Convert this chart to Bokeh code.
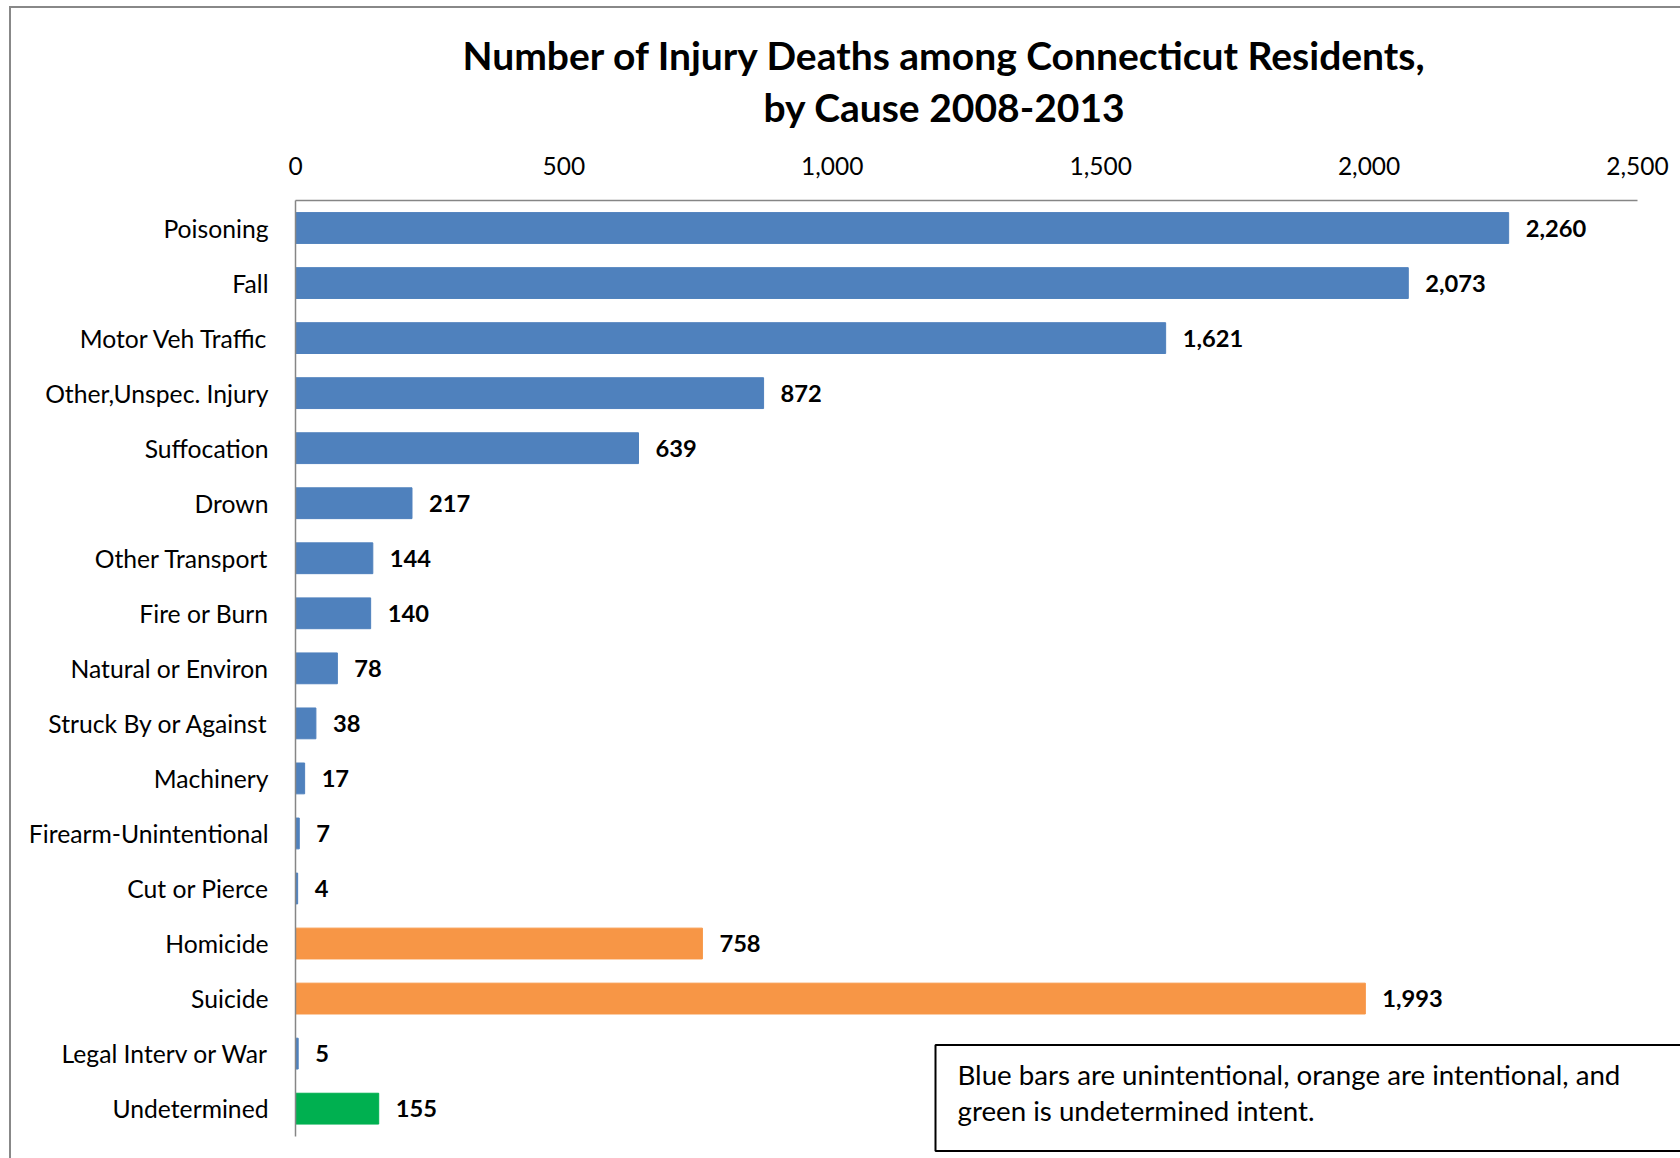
from bokeh.plotting import figure
from bokeh.models import (ColumnDataSource, Range1d, FixedTicker,
                          NumeralTickFormatter, Label, BoxAnnotation, Title)
from bokeh.core.properties import value
from bokeh.embed import file_html
from bokeh.resources import INLINE

# ---- data ----
categories = ["Poisoning", "Fall", "Motor Veh Traffic", "Other,Unspec. Injury",
              "Suffocation", "Drown", "Other Transport", "Fire or Burn",
              "Natural or Environ", "Struck By or Against", "Machinery",
              "Firearm-Unintentional", "Cut or Pierce", "Homicide", "Suicide",
              "Legal Interv or War", "Undetermined"]
deaths = [2260, 2073, 1621, 872, 639, 217, 144, 140, 78, 38, 17, 7, 4,
          758, 1993, 5, 155]
intent = ["unintentional"] * 13 + ["intentional", "intentional",
                                   "unintentional", "undetermined"]
x_ticks = [0, 500, 1000, 1500, 2000, 2500]
title_lines = ["Number of Injury Deaths among Connecticut Residents,",
               "by Cause 2008-2013"]
note_lines = ["Blue bars are unintentional, orange are intentional, and",
              "green is undetermined intent."]

intent_colors = {"unintentional": "#4F81BD", "intentional": "#F79646",
                 "undetermined": "#00B050"}

FONT = "Lato"
W, H = 1680, 1158
L, T = 295, 200          # frame left / top (canvas px)
AXIS_RIGHT = 1637        # pixel where 2,500 sits
X_MAX = 2500
n = len(categories)
pos = list(range(n))     # row index, top to bottom
ROW = 55.04              # px per row

src = ColumnDataSource(dict(
    pos=pos,
    val=deaths,
    color=[intent_colors[i] for i in intent],
    lab=[f"{v:,}" for v in deaths],
))

x_end = X_MAX * (W - L) / (AXIS_RIGHT - L)
y_bottom = (H - T) / ROW - 0.5

p = figure(width=W, height=H, output_backend="svg", toolbar_location=None,
           x_range=Range1d(0, x_end), y_range=Range1d(y_bottom, -0.5),
           x_axis_location="above", min_border_left=L, min_border_right=0,
           min_border_top=T, min_border_bottom=0,
           title=title_lines[0])
p.outline_line_color = None
p.grid.grid_line_color = None
p.background_fill_color = "white"
p.border_fill_alpha = 0
p.styles = {"background-color": "white",
            "box-shadow": "inset 9px 6px 0 0 #ffffff, inset 11px 8px 0 0 #888888"}

p.hbar(y="pos", right="val", left=0, height=0.56, color="color", source=src)
p.text(x="val", y="pos", text="lab", source=src, x_offset=17,
       text_baseline="middle", text_align="left",
       text_font=value(FONT), text_font_style="bold",
       text_font_size="23.7px", text_color="black")

xa = p.xaxis[0]
xa.ticker = FixedTicker(ticks=x_ticks)
xa.formatter = NumeralTickFormatter(format="0,0")
xa.bounds = (0, X_MAX)
xa.major_tick_line_color = None
xa.minor_tick_line_color = None
xa.axis_line_color = "#868686"
xa.axis_line_width = 1.5
xa.major_label_text_font = FONT
xa.major_label_text_font_size = "24.5px"
xa.major_label_text_color = "black"
xa.major_label_standoff = 20

ya = p.yaxis[0]
ya.ticker = FixedTicker(ticks=pos)
ya.major_label_overrides = {i: c for i, c in zip(pos, categories)}
ya.bounds = (-0.5, n - 0.5)
ya.major_tick_line_color = None
ya.minor_tick_line_color = None
ya.axis_line_color = "#868686"
ya.axis_line_width = 1.5
ya.major_label_text_font = FONT
ya.major_label_text_font_size = "24.7px"
ya.major_label_text_color = "black"
ya.major_label_standoff = 21

# title: line 1 is the plot title (outermost); line 2 sits just above the axis
p.title.text_font = FONT
p.title.text_font_style = "bold"
p.title.text_font_size = "39px"
p.title.text_color = "black"
p.title.align = "left"
p.title.offset = 167
p.title.standoff = -40
t2 = Title(text=title_lines[1], text_font=FONT, text_font_style="bold",
           text_font_size="39px", text_color="black", align="left",
           offset=468, standoff=48)
p.add_layout(t2, "above")

# note box
p.add_layout(BoxAnnotation(left=935 - L, right=W - L + 20,
                           top=H - 1044.5, bottom=H - 1150.5,
                           left_units="screen", right_units="screen",
                           top_units="screen", bottom_units="screen",
                           fill_color="white", fill_alpha=1,
                           line_color="black", line_alpha=1, line_width=2))
p.add_layout(Label(x=957 - L, y=H - 1074, x_units="screen", y_units="screen",
                   text=note_lines[0], text_align="left",
                   text_baseline="middle", text_font=FONT,
                   text_font_size="27.7px", text_color="black"))
p.add_layout(Label(x=957 - L, y=H - 1110, x_units="screen", y_units="screen",
                   text=note_lines[1], text_align="left",
                   text_baseline="middle", text_font=FONT,
                   text_font_size="27.7px", text_color="black"))

open("out.html", "w").write(file_html(p, INLINE))
